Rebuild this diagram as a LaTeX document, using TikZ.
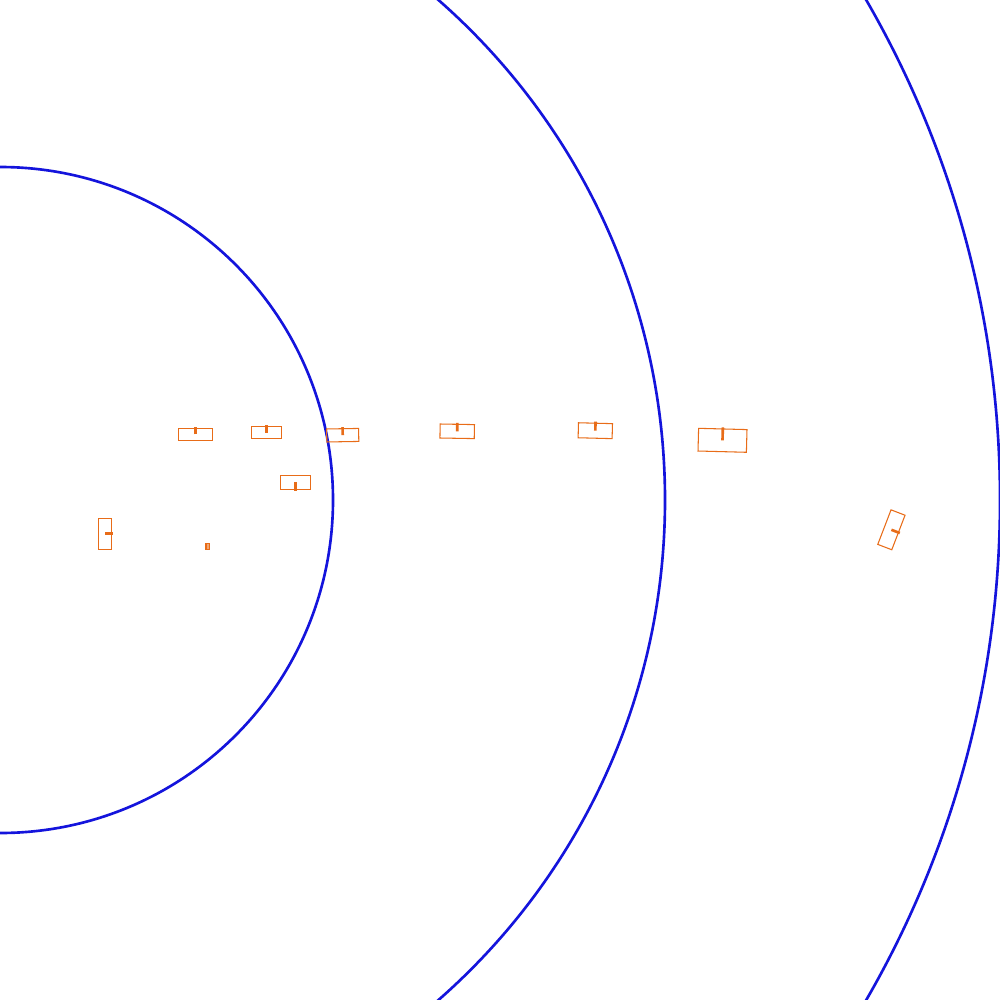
\documentclass[tikz,border=0pt]{standalone}
\definecolor{ringblue}{RGB}{20,20,220}
\definecolor{carorange}{RGB}{232,108,24}
\tikzset{
  ring/.style={draw=ringblue,line width=0.75pt},
  carline/.style={draw=carorange,line width=0.3pt},
  tickline/.style={draw=carorange,line width=0.75pt},
  pics/carbox/.style 2 args={code={
    \draw[carline] (-#1/2,-#2/2) rectangle (#1/2,#2/2);
    \draw[tickline] (0,0) -- (0,-#2/2-1.5);
  }}
}
\begin{document}
\begin{tikzpicture}[x=0.01cm,y=-0.01cm]
\useasboundingbox (0,0) rectangle (1000,1000);
\clip (0,0) rectangle (1000,1000);
\fill[white] (0,0) rectangle (1000,1000);
% rings
\draw[ring] (0,500) circle[radius=333];
\draw[ring] (0,500) circle[radius=665];
\draw[ring] (0,500) circle[radius=1000];
% cars
\pic at (195.5,434.3) {carbox={34.4}{12}};
\pic at (266.5,432.8) {carbox={30.4}{11.7}};
\pic[rotate=1] at (342.7,435.2) {carbox={32}{13}};
\pic[rotate=180] at (295.5,482.2) {carbox={30.4}{13.7}};
\pic[rotate=-1] at (457.2,431.3) {carbox={34.3}{14}};
\pic[rotate=-1.5] at (595.3,430.7) {carbox={34}{15}};
\pic[rotate=-1.5] at (722.5,440.3) {carbox={48.4}{22.7}};
\pic[rotate=-111] at (891.4,529.8) {carbox={37}{15}};
\pic[rotate=-90] at (105,533.8) {carbox={31}{13.4}};
\draw[carline,fill=carorange!60] (206,543.3) rectangle (209.3,549.3);
\end{tikzpicture}
\end{document}
